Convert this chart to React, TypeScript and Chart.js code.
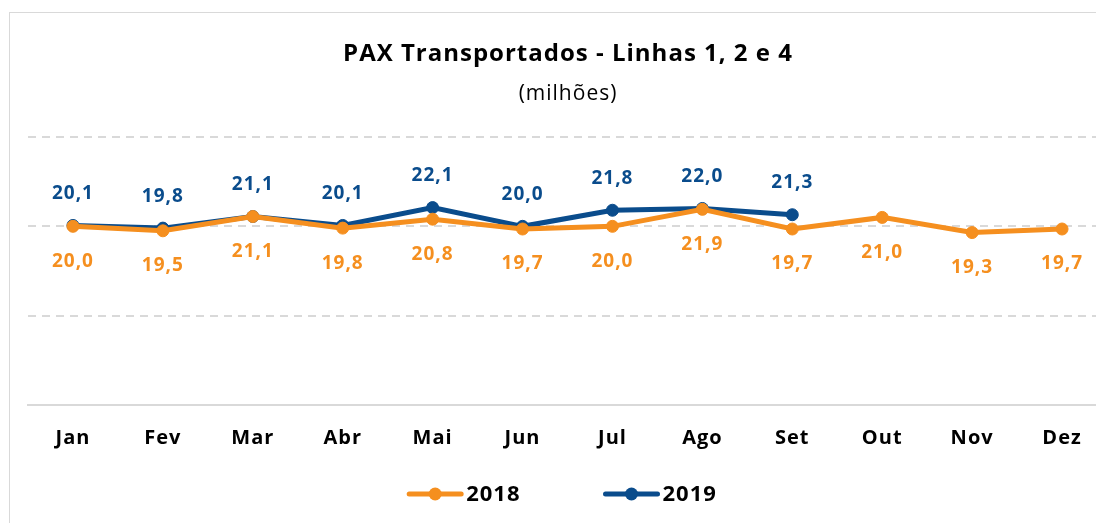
import React, { useEffect, useRef } from "react";
import { Chart, registerables } from "chart.js";

Chart.register(...registerables);

const months = ["Jan", "Fev", "Mar", "Abr", "Mai", "Jun", "Jul", "Ago", "Set", "Out", "Nov", "Dez"];
const values2018 = [20.0, 19.5, 21.1, 19.8, 20.8, 19.7, 20.0, 21.9, 19.7, 21.0, 19.3, 19.7];
const values2019 = [20.1, 19.8, 21.1, 20.1, 22.1, 20.0, 21.8, 22.0, 21.3, null, null, null];
const seriesNames = ["2018", "2019"];
const titleText = "PAX Transportados - Linhas 1, 2 e 4";
const subtitleText = "(milhões)";

const ORANGE = "#F58F1F";
const BLUE = "#0A4C8C";
const FONT = "'Open Sans', sans-serif";

const fmt = (v: number) => v.toFixed(1).replace(".", ",");

const spacingPlugin = {
  id: "letterSpacing",
  beforeDraw(chart: any) {
    (chart.ctx as any).letterSpacing = "1px";
  },
};

const labelsPlugin = {
  id: "valueLabels",
  afterDatasetsDraw(chart: any) {
    const ctx = chart.ctx;
    ctx.save();
    ctx.letterSpacing = "1px";
    ctx.font = `bold 19px ${FONT}`;
    ctx.textAlign = "center";
    ctx.textBaseline = "middle";
    chart.data.datasets.forEach((ds: any, di: number) => {
      const meta = chart.getDatasetMeta(di);
      meta.data.forEach((pt: any, i: number) => {
        const v = ds.data[i];
        if (v === null || v === undefined) return;
        ctx.fillStyle = ds.borderColor;
        const dy = di === 0 ? 35 : -32;
        ctx.fillText(fmt(v), pt.x, pt.y + dy);
      });
    });
    ctx.restore();
  },
};

const legendPlugin = {
  id: "customLegend",
  afterDraw(chart: any) {
    const ctx = chart.ctx;
    ctx.save();
    ctx.letterSpacing = "1px";
    ctx.font = `bold 22px ${FONT}`;
    ctx.textBaseline = "middle";
    const lineW = 56;
    const gap = 3;
    const spacing = 83;
    const items = chart.data.datasets.map((ds: any) => ({
      text: ds.label,
      color: ds.borderColor,
      w: lineW + gap + ctx.measureText(ds.label).width,
    }));
    const total = items.reduce((s: number, it: any) => s + it.w, 0) + spacing * (items.length - 1);
    let x = chart.width / 2 - total / 2;
    const y = chart.chartArea.bottom + 89;
    items.forEach((it: any) => {
      ctx.strokeStyle = it.color;
      ctx.lineWidth = 5;
      ctx.lineCap = "round";
      ctx.beginPath();
      ctx.moveTo(x + 2, y);
      ctx.lineTo(x + lineW - 2, y);
      ctx.stroke();
      ctx.fillStyle = it.color;
      ctx.beginPath();
      ctx.arc(x + lineW / 2, y, 6.5, 0, Math.PI * 2);
      ctx.fill();
      ctx.fillStyle = "#000";
      ctx.textAlign = "left";
      ctx.fillText(it.text, x + lineW + gap, y + 1);
      x += it.w + spacing;
    });
    ctx.restore();
  },
};

export default function App() {
  const ref = useRef<HTMLCanvasElement | null>(null);
  useEffect(() => {
    if (!ref.current) return;
    const chart = new Chart(ref.current, {
      type: "line",
      data: {
        labels: months,
        datasets: [
          {
            label: seriesNames[0],
            data: values2018,
            borderColor: ORANGE,
            backgroundColor: ORANGE,
            borderWidth: 5,
            pointRadius: 6,
            pointBackgroundColor: ORANGE,
            pointBorderColor: ORANGE,
            pointBorderWidth: 1,
            tension: 0,
          },
          {
            label: seriesNames[1],
            data: values2019,
            borderColor: BLUE,
            backgroundColor: BLUE,
            borderWidth: 5,
            pointRadius: 6,
            pointBackgroundColor: BLUE,
            pointBorderColor: BLUE,
            pointBorderWidth: 1,
            tension: 0,
            spanGaps: false,
          },
        ],
      },
      options: {
        responsive: false,
        animation: false,
        devicePixelRatio: 1,
        layout: { padding: { left: 18, right: 6, top: 0, bottom: 70 } },
        plugins: {
          legend: { display: false },
          tooltip: { enabled: false },
          title: {
            display: true,
            text: titleText,
            color: "#000",
            font: { family: FONT, size: 24, weight: "bold" },
            padding: { top: 27, bottom: 0 },
          },
          subtitle: {
            display: true,
            text: subtitleText,
            color: "#000",
            font: { family: FONT, size: 21, weight: "normal" },
            padding: { top: 13, bottom: 30 },
          },
        },
        scales: {
          x: {
            offset: true,
            grid: { display: false, drawTicks: false },
            border: { display: true, color: "#D9D9D9", width: 2 },
            ticks: {
              color: "#000",
              font: { family: FONT, size: 20, weight: "bold" },
              padding: 21,
              maxRotation: 0,
            },
          },
          y: {
            min: 0,
            max: 30,
            display: true,
            border: { display: false, dash: [8, 6] },
            grid: {
              color: (c: any) => (c.tick && c.tick.value === 0 ? "rgba(0,0,0,0)" : "#D9D9D9"),
              lineWidth: 2,
              drawTicks: false,
            },
            ticks: { display: false, stepSize: 10 },
          },
        },
      },
      plugins: [spacingPlugin, labelsPlugin, legendPlugin],
    } as any);
    return () => chart.destroy();
  }, []);

  return (
    <div
      style={{
        position: "fixed",
        left: 0,
        top: 0,
        width: "100vw",
        height: "100vh",
        overflow: "hidden",
        background: "#fff",
      }}
    >
      <div
        style={{
          position: "absolute",
          left: 9,
          top: 12,
          width: 1104,
          height: 528,
          border: "1px solid #D9D9D9",
          background: "#fff",
        }}
      >
        <canvas ref={ref} width={1104} height={528} style={{ display: "block" }} />
      </div>
    </div>
  );
}
